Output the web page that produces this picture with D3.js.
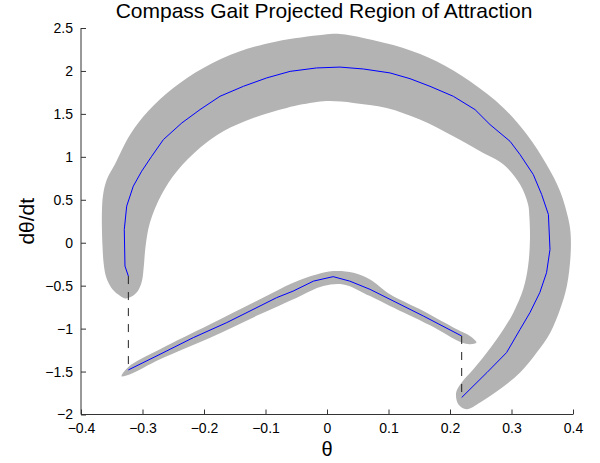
<!DOCTYPE html>
<html>
<head>
<meta charset="utf-8">
<script src="https://cdn.jsdelivr.net/npm/d3@7"></script>
<style>
  body { margin: 0; background: #fff; }
  text { font-family: "Liberation Sans", Arial, Helvetica, sans-serif; fill: #000; }
</style>
</head>
<body>
<div class="chart"></div>
<script>
// tick values
var xTicks = [-0.4, -0.3, -0.2, -0.1, 0, 0.1, 0.2, 0.3, 0.4];
var yTicks = [-2, -1.5, -1, -0.5, 0, 0.5, 1, 1.5, 2, 2.5];

// big arc region outline [theta, dtheta] (outer edge then inner edge back)
var arcRegion = [
  [-0.3285, -0.648], [-0.340, -0.601], [-0.351, -0.520], [-0.359, -0.403], [-0.363, -0.250],
  [-0.365, -0.040], [-0.366, 0.352],
  [-0.364, 0.562], [-0.358, 0.736], [-0.345, 0.910], [-0.320, 1.259], [-0.291, 1.530],
  [-0.250, 1.802], [-0.201, 2.035], [-0.1415, 2.228], [-0.082, 2.344], [-0.006, 2.422],
  [0.021, 2.430], [0.059, 2.384], [0.124, 2.267], [0.178, 2.112], [0.2325, 1.879],
  [0.287, 1.570], [0.325, 1.259], [0.357, 0.910], [0.379, 0.600], [0.392, 0.291],
  [0.396, 0.116], [0.396, -0.156], [0.390, -0.505], [0.379, -0.776], [0.363, -1.047],
  [0.341, -1.279], [0.314, -1.512], [0.281, -1.706], [0.249, -1.860], [0.227, -1.938],
  [0.2135, -1.880], [0.210, -1.744], [0.219, -1.628],
  [0.238, -1.473], [0.260, -1.279], [0.287, -1.008], [0.303, -0.814], [0.319, -0.543],
  [0.327, -0.272], [0.330, 0.038], [0.329, 0.309], [0.327, 0.445], [0.314, 0.678],
  [0.287, 0.910], [0.249, 1.065], [0.2054, 1.240], [0.151, 1.434], [0.097, 1.570],
  [0.043, 1.628], [0.005, 1.649], [-0.017, 1.637], [-0.0655, 1.570], [-0.120, 1.453],
  [-0.1686, 1.298], [-0.2065, 1.105], [-0.244, 0.833], [-0.269, 0.562], [-0.288, 0.233],
  [-0.295, -0.040], [-0.298, -0.287], [-0.301, -0.450], [-0.307, -0.555], [-0.317, -0.624]
];

// lower (V shaped) region outline
var vRegion = [
  [-0.334, -1.555], [-0.323, -1.447], [-0.2715, -1.241], [-0.190, -0.950], [-0.109, -0.659],
  [-0.055, -0.465], [-0.017, -0.369], [0.010, -0.330], [0.043, -0.349], [0.070, -0.427],
  [0.1024, -0.601], [0.1566, -0.795], [0.211, -1.008], [0.2325, -1.086], [0.243, -1.163],
  [0.2325, -1.183], [0.219, -1.163], [0.1675, -0.962], [0.1024, -0.737], [0.070, -0.621],
  [0.0265, -0.485], [-0.006, -0.505], [-0.049, -0.640], [-0.109, -0.834], [-0.190, -1.105],
  [-0.2715, -1.357], [-0.320, -1.531]
];

// nominal trajectory, swing phase
var trajArc = [
  [-0.323, -0.388], [-0.3285, -0.272], [-0.3296, 0.155], [-0.3257, 0.426], [-0.315, 0.658],
  [-0.3013, 0.833], [-0.285, 1.007], [-0.266, 1.201], [-0.236, 1.395], [-0.2065, 1.550],
  [-0.174, 1.705], [-0.136, 1.821], [-0.098, 1.919], [-0.060, 1.995], [-0.017, 2.035],
  [0.021, 2.045], [0.059, 2.023], [0.1024, 1.977], [0.135, 1.910], [0.1675, 1.821],
  [0.2054, 1.705], [0.2407, 1.550], [0.265, 1.376], [0.2976, 1.181], [0.3138, 1.027],
  [0.3354, 0.794], [0.349, 0.562], [0.360, 0.329], [0.3626, -0.078], [0.357, -0.349],
  [0.346, -0.581], [0.330, -0.814], [0.314, -1.008], [0.292, -1.279], [0.260, -1.512],
  [0.219, -1.802]
];

// nominal trajectory, stance phase
var trajV = [
  [-0.323, -1.481], [-0.2715, -1.299], [-0.2174, -1.105], [-0.163, -0.930], [-0.109, -0.737],
  [-0.082, -0.640], [-0.055, -0.563], [-0.022, -0.447], [0.010, -0.395], [0.037, -0.447],
  [0.070, -0.543], [0.1024, -0.659], [0.1566, -0.853], [0.219, -1.086]
];

// impact (reset) jumps
var resets = [
  [[-0.323, -0.388], [-0.323, -1.481]],
  [[0.219, -1.086], [0.219, -1.802]]
];

var svgWidth = 600;
var svgHeight = 463;
var margin = { top: 28, right: 27, bottom: 48.5, left: 81 };
var width = svgWidth - margin.left - margin.right;
var height = svgHeight - margin.top - margin.bottom;

var svg = d3.select(".chart").append("svg")
    .attr("width", svgWidth).attr("height", svgHeight);

var chartGroup = svg.append("g")
    .attr("transform", `translate(${margin.left}, ${margin.top})`);

var x = d3.scaleLinear().domain([-0.4, 0.4]).range([0, width]);
var y = d3.scaleLinear().domain([-2, 2.5]).range([height, 0]);

var line = d3.line().x(d => x(d[0])).y(d => y(d[1]));
var area = d3.line().x(d => x(d[0])).y(d => y(d[1])).curve(d3.curveCatmullRomClosed.alpha(0.5));

chartGroup.selectAll(".region")
    .data([arcRegion, vRegion])
    .enter().append("path")
    .attr("class", "region")
    .attr("d", area)
    .attr("fill", "#b3b3b3")
    .attr("stroke", "none");

chartGroup.selectAll(".traj")
    .data([trajArc, trajV])
    .enter().append("path")
    .attr("class", "traj")
    .attr("d", line)
    .attr("fill", "none")
    .attr("stroke", "#0000ff")
    .attr("stroke-width", 1);

chartGroup.selectAll(".reset")
    .data(resets)
    .enter().append("path")
    .attr("class", "reset")
    .attr("d", line)
    .attr("fill", "none")
    .attr("stroke", "#222")
    .attr("stroke-width", 1)
    .attr("stroke-dasharray", "8,8");

var fmt = d => (d < 0 ? "\u2212" : "") + Math.abs(d);

var bottomAxis = d3.axisBottom(x).tickValues(xTicks).tickSize(-5).tickPadding(9).tickFormat(fmt);
var leftAxis = d3.axisLeft(y).tickValues(yTicks).tickSize(-5).tickPadding(8).tickFormat(fmt);

var gx = chartGroup.append("g")
    .attr("transform", `translate(0, ${height})`)
    .call(bottomAxis);
var gy = chartGroup.append("g").call(leftAxis);

[gx, gy].forEach(function(g) {
    g.selectAll("path").attr("stroke", "#333").attr("d", null);
    g.selectAll("line").attr("stroke", "#333");
    g.selectAll("text").style("font-size", "14px").attr("fill", "#000");
    g.attr("font-family", null);
});

gx.append("line").attr("x1", 0).attr("x2", width).attr("stroke", "#333");
gy.append("line").attr("y1", 0).attr("y2", height).attr("stroke", "#333");

svg.append("text")
    .attr("x", 324)
    .attr("y", 17.5)
    .attr("text-anchor", "middle")
    .style("font-size", "21px")
    .text("Compass Gait Projected Region of Attraction");

svg.append("text")
    .attr("x", margin.left + width / 2)
    .attr("y", 456)
    .attr("text-anchor", "middle")
    .style("font-size", "20px")
    .text("\u03b8");

svg.append("text")
    .attr("transform", `translate(34, ${margin.top + height / 2}) rotate(-90)`)
    .attr("text-anchor", "middle")
    .style("font-size", "21px")
    .text("d\u03b8/dt");
</script>
</body>
</html>
